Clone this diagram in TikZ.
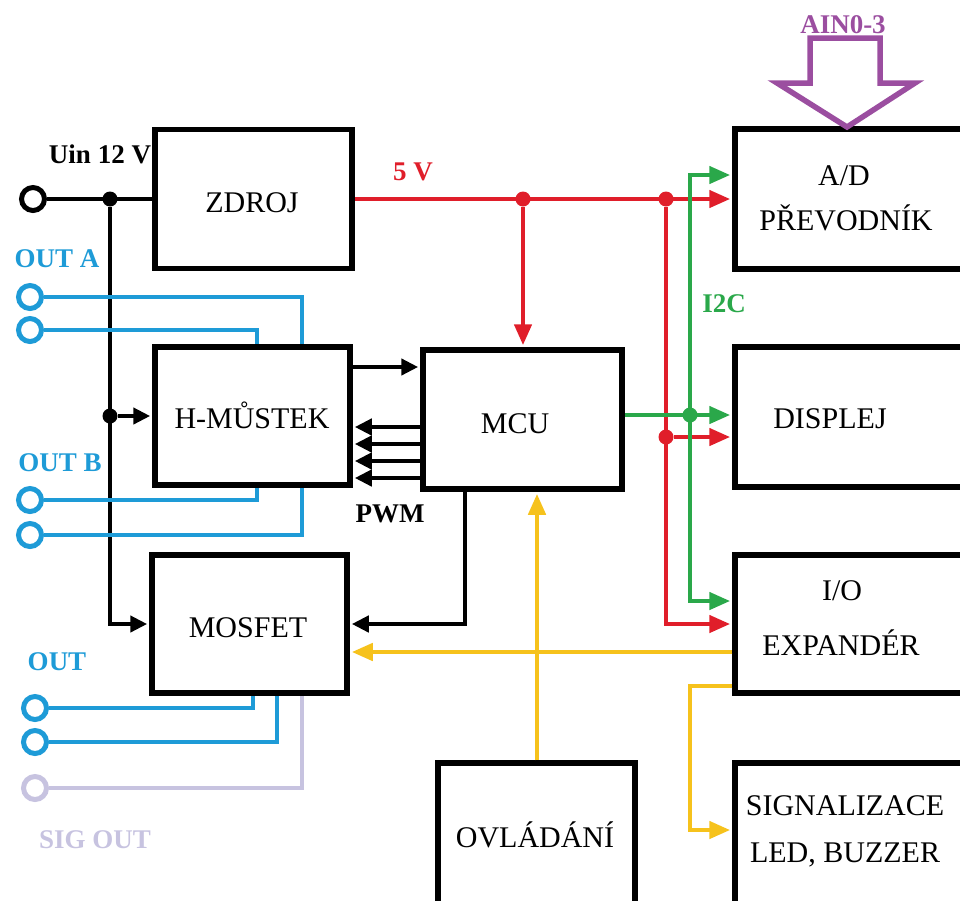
\documentclass[tikz,border=0pt]{standalone}
\usepackage{fontspec}
\setmainfont{Liberation Serif}
\usetikzlibrary{arrows.meta}
\definecolor{cblue}{HTML}{1E9BD7}
\definecolor{cred}{HTML}{E01E2A}
\definecolor{cgreen}{HTML}{2AA84A}
\definecolor{cyellow}{HTML}{F6C21C}
\definecolor{cpurple}{HTML}{9B4EA0}
\definecolor{clav}{HTML}{C7C3E0}
\begin{document}
\begin{tikzpicture}[x=1pt,y=-1pt,
  box/.style={draw, line width=5.5pt, rectangle, inner sep=0pt},
  boxtext/.style={font=\fontsize{30}{36}\selectfont, inner sep=0pt, anchor=base},
  lbl/.style={font=\bfseries\fontsize{27}{30}\selectfont, inner sep=0pt, anchor=base},
  wire/.style={line width=4.5pt},
  blkarrow/.style={line width=4.5pt, -{Triangle[length=17pt,width=16pt]}, shorten >=2pt},
  redw/.style={line width=4.5pt, draw=cred},
  greenw/.style={line width=4.5pt, draw=cgreen},
  yelw/.style={line width=4.5pt, draw=cyellow},
  bluew/.style={line width=4.5pt, draw=cblue},
  ctip/.style={-{Triangle[length=21pt,width=17pt]}, shorten >=2pt},
  terminal/.style={circle, draw, line width=5pt, minimum size=23pt, inner sep=0pt, fill=white},
  junction/.style={circle, fill, minimum size=15pt, inner sep=0pt},
]
\useasboundingbox (0,0) rectangle (960,900);
\clip (0,0) rectangle (960,900);

% boxes
\node[box, minimum width=197pt, minimum height=139pt] (zdroj) at (253.5,199) {};
\node[box, minimum width=195pt, minimum height=138pt] (hm) at (252.5,416) {};
\node[box, minimum width=199pt, minimum height=139pt] (mcu) at (522.5,419.5) {};
\node[box, minimum width=195pt, minimum height=138pt] (mosfet) at (249.5,624) {};
\node[box, minimum width=230pt, minimum height=140pt] (ad) at (850,199) {};
\node[box, minimum width=230pt, minimum height=140pt] (disp) at (850,417) {};
\node[box, minimum width=230pt, minimum height=138pt] (io) at (850,624) {};
\node[box, minimum width=230pt, minimum height=150pt] (sig) at (850,838) {};
\node[box, minimum width=197pt, minimum height=150pt] (ovl) at (536.5,838) {};

% box texts
\node[boxtext] (zdrojT) at (252,212) {ZDROJ};
\node[boxtext] (hmT) at (252,428) {H-MŮSTEK};
\node[boxtext] (mcuT) at (515,433) {MCU};
\node[boxtext] (mosT) at (248,637) {MOSFET};
\node[boxtext] (adT1) at (844,185) {A/D};
\node[boxtext] (adT2) at (846,230) {PŘEVODNÍK};
\node[boxtext] (dispT) at (830,428) {DISPLEJ};
\node[boxtext] (ioT1) at (842,600) {I/O};
\node[boxtext] (ioT2) at (841,655) {EXPANDÉR};
\node[boxtext] (sigT1) at (845,815) {SIGNALIZACE};
\node[boxtext] (sigT2) at (845,862) {LED, BUZZER};
\node[boxtext] (ovlT) at (535,847) {OVLÁDÁNÍ};

% labels
\node[lbl] (uinL) at (100,163) {Uin 12 V};
\node[lbl, text=cblue] (outaL) at (57,267) {OUT A};
\node[lbl, text=cblue] (outbL) at (60,471) {OUT B};
\node[lbl, text=cblue] (outL) at (57,670) {OUT};
\node[lbl, text=clav] (sigoutL) at (95,848) {SIG OUT};
\node[lbl] (pwmL) at (390,522) {PWM};
\node[lbl, text=cred] (fiveL) at (413,180) {5 V};
\node[lbl, text=cgreen] (i2cL) at (724,312) {I2C};
\node[lbl, text=cpurple] (ainL) at (843,33) {AIN0-3};

% AIN hollow arrow
\draw[cpurple, line width=5.5pt, line join=miter] (810,38) -- (880,38) -- (880,83) -- (915,83) -- (847,127) -- (777,83) -- (810,83) -- cycle;

% black supply wiring
\node[terminal] (uin) at (33,199) {};
\node[junction] (j1) at (110,199) {};
\node[junction] (j2) at (110,416) {};
\draw[wire] (uin.east) -- (zdroj.west);
\draw[blkarrow] (j1) |- (mosfet.west);
\draw[blkarrow] (j2) -- (hm.west);

% H-bridge <-> MCU
\draw[blkarrow] (hm.east |- 0,367) -- (mcu.west |- 0,367);
\foreach \yy in {427,444,461,478}
  \draw[blkarrow] (mcu.west |- 0,\yy) -- (hm.east |- 0,\yy);
\draw[blkarrow] (mcu.south -| 465,0) |- (mosfet.east);

% red 5 V
\node[junction, cred] (r1) at (523,199) {};
\node[junction, cred] (r2) at (666,199) {};
\node[junction, cred] (r3) at (666,437) {};
\draw[redw, ctip] (zdroj.east) -- (ad.west |- zdroj.east);
\draw[redw, ctip] (r1) -- (r1 |- mcu.north);
\draw[redw, ctip] (r2) |- (io.west);
\draw[redw, ctip] (r3) -- (disp.west |- r3);

% green I2C
\node[junction, cgreen] (g1) at (690,415) {};
\draw[greenw, ctip] (mcu.east |- g1) -- (disp.west |- g1);
\draw[greenw, {Triangle[length=21pt,width=17pt]}-{Triangle[length=21pt,width=17pt]}, shorten <=2pt, shorten >=2pt]
  (ad.west |- 0,175) -- (690,175) -- (690,601) -- (io.west |- 0,601);

% yellow
\draw[yelw, ctip] (io.west |- 0,652) -- (mosfet.east |- 0,652);
\draw[yelw, ctip] (ovl.north -| 537,0) -- (mcu.south -| 537,0);
\draw[yelw, ctip] (io.west |- 0,686) -| (690,830) -- (sig.west |- 0,830);

% blue outputs
\node[terminal, draw=cblue] (a1) at (30,297) {};
\node[terminal, draw=cblue] (a2) at (30,330) {};
\node[terminal, draw=cblue] (b1) at (30,500) {};
\node[terminal, draw=cblue] (b2) at (30,535) {};
\node[terminal, draw=cblue] (m1) at (35,708) {};
\node[terminal, draw=cblue] (m2) at (35,742) {};
\node[terminal, draw=clav] (s1) at (35,788) {};
\draw[bluew] (a1.east) -| (hm.north -| 302,0);
\draw[bluew] (a2.east) -| (hm.north -| 257,0);
\draw[bluew] (b1.east) -| (hm.south -| 257,0);
\draw[bluew] (b2.east) -| (hm.south -| 302,0);
\draw[bluew] (m1.east) -| (mosfet.south -| 253,0);
\draw[bluew] (m2.east) -| (mosfet.south -| 277,0);
\draw[line width=4.5pt, draw=clav] (s1.east) -| (mosfet.south -| 302,0);
\end{tikzpicture}
\end{document}
